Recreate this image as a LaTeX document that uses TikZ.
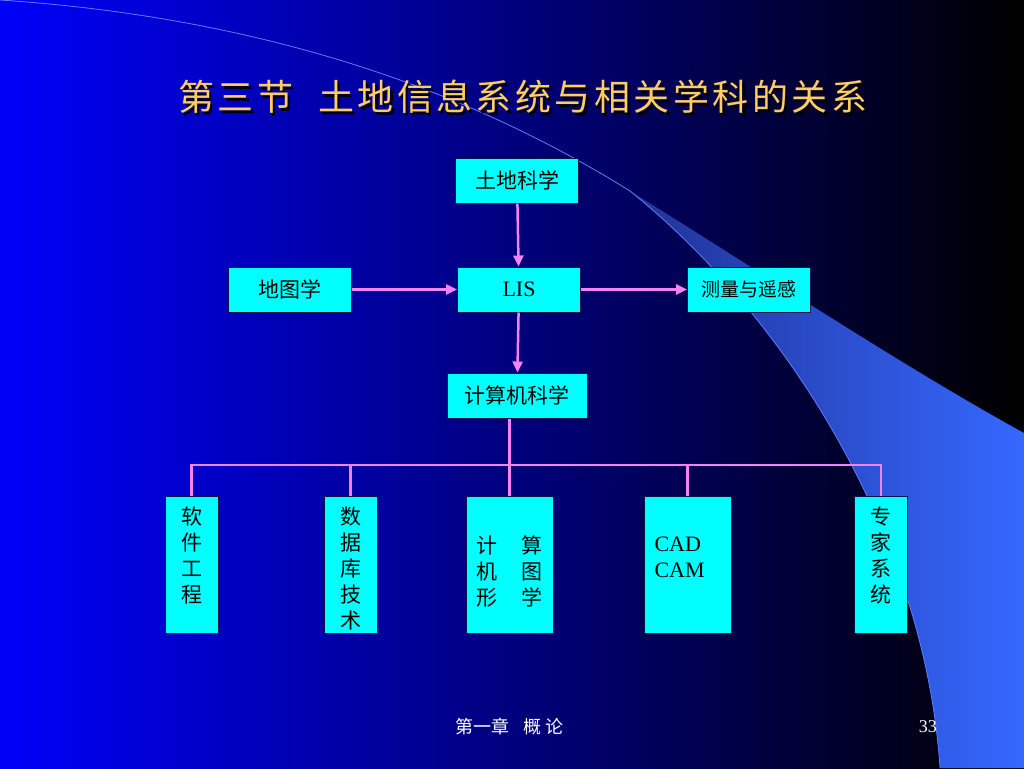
\documentclass[tikz,border=0pt]{standalone}
\usepackage{fontspec}
\setmainfont{Liberation Serif}
\newfontfamily\cjk{Noto Sans CJK SC}
\newfontfamily\titlecjk[LetterSpace=9.6]{Noto Sans CJK SC}
\usetikzlibrary{arrows.meta}

\definecolor{bgblue}{RGB}{0,0,250}
\definecolor{bgmid}{RGB}{0,0,190}
\definecolor{swooshblue}{RGB}{53,104,255}
\definecolor{swooshmid}{RGB}{48,88,225}
\definecolor{swooshdark}{RGB}{32,50,150}
\definecolor{swooshline}{RGB}{95,125,255}
\definecolor{titlegold}{RGB}{255,204,102}
\definecolor{boxcyan}{RGB}{0,255,255}
\definecolor{boxedge}{RGB}{10,20,70}
\definecolor{linkpink}{RGB}{245,130,245}

\tikzset{
  box/.style={draw=boxedge, line width=1pt, fill=boxcyan, inner sep=0pt,
    minimum width=123pt, minimum height=45pt, font=\cjk\fontsize{21}{26}\selectfont},
  tallbox/.style={box, minimum width=53pt, minimum height=137pt, align=center},
  link/.style={draw=linkpink, line width=2.5pt},
}

\begin{document}
\begin{tikzpicture}[x=1pt, y=-1pt, >={Triangle[length=11pt,width=10pt]}]

  % Background
  \useasboundingbox (0,0) rectangle (1024,768);
  \shade[left color=bgblue, middle color=bgmid, right color=black] (0,0) rectangle (1024,768);
  \shade[left color=swooshdark, middle color=swooshmid, right color=swooshblue]
    (630,191) .. controls (750,265) and (900,365) .. (1024,433) -- (1024,768) -- (940,768)
    .. controls (925,540) and (790,320) .. (630,191) -- cycle;
  \draw[swooshline, line width=0.8pt] (0,0) .. controls (300,20) and (500,110) .. (630,191)
    .. controls (790,320) and (925,540) .. (940,768);

  % Title
  \node[anchor=west, inner sep=0pt, text=black, font=\titlecjk\fontsize{36}{40}\selectfont]
    (titleshadow) at (180.5,99.5) {第三节\hspace{25pt}土地信息系统与相关学科的关系};
  \node[anchor=west, inner sep=0pt, text=titlegold, font=\titlecjk\fontsize{36}{40}\selectfont]
    (title) at (178,97) {第三节\hspace{25pt}土地信息系统与相关学科的关系};

  % Upper nodes
  \node[box] (soil) at (517,180.5) {土地科学};
  \node[box] (carto) at (289.5,289.5) {地图学};
  \node[box, font=\fontsize{22}{26}\selectfont] (lis) at (519,289.5) {LIS};
  \node[box, font=\cjk\fontsize{19}{24}\selectfont] (survey) at (749,289.5) {测量与遥感};
  \node[box, minimum width=140pt] (comp) at (517,395.5) {计算机科学};

  % Lower nodes
  \node[tallbox, text depth=20pt] (soft) at (191.5,564.5) {软\\件\\工\\程};
  \node[tallbox, text height=130pt] (db) at (350.5,564.5) {数\\据\\库\\技\\术};
  \node[tallbox, minimum width=87pt, text height=84pt] (graph) at (509.5,564.5)
    {计\hspace{24pt}算\\机\hspace{24pt}图\\形\hspace{24pt}学};
  \node[tallbox, minimum width=87pt, text width=66pt, align=left, text depth=40pt,
    font=\fontsize{22}{26}\selectfont] (cadcam) at (687.5,564.5) {CAD\\CAM};
  \node[tallbox, text depth=20pt] (expert) at (881,564.5) {专\\家\\系\\统};

  % Footer
  \node[anchor=west, inner sep=0pt, text=white, font=\cjk\fontsize{18}{20}\selectfont]
    (chapter) at (455,727) {第一章\hspace{14pt}概 论};
  \node[anchor=east, inner sep=0pt, text=white, font=\fontsize{18}{20}\selectfont]
    (page) at (937,727) {33};

  % Connections
  \draw[link, ->] (soil) -- (lis);
  \draw[link, ->] (carto) -- (lis);
  \draw[link, ->] (lis) -- (survey);
  \draw[link, ->] (lis) -- (comp);

  % Tree
  \coordinate (bus) at (0,465);
  \draw[link] (graph.north |- comp.south) -- (graph.north);
  \draw[link] (soft.north) -- (soft.north |- bus) -- (expert.north |- bus) -- (expert.north);
  \foreach \n in {db,cadcam}
    \draw[link] (\n.north |- bus) -- (\n.north);

\end{tikzpicture}
\end{document}
